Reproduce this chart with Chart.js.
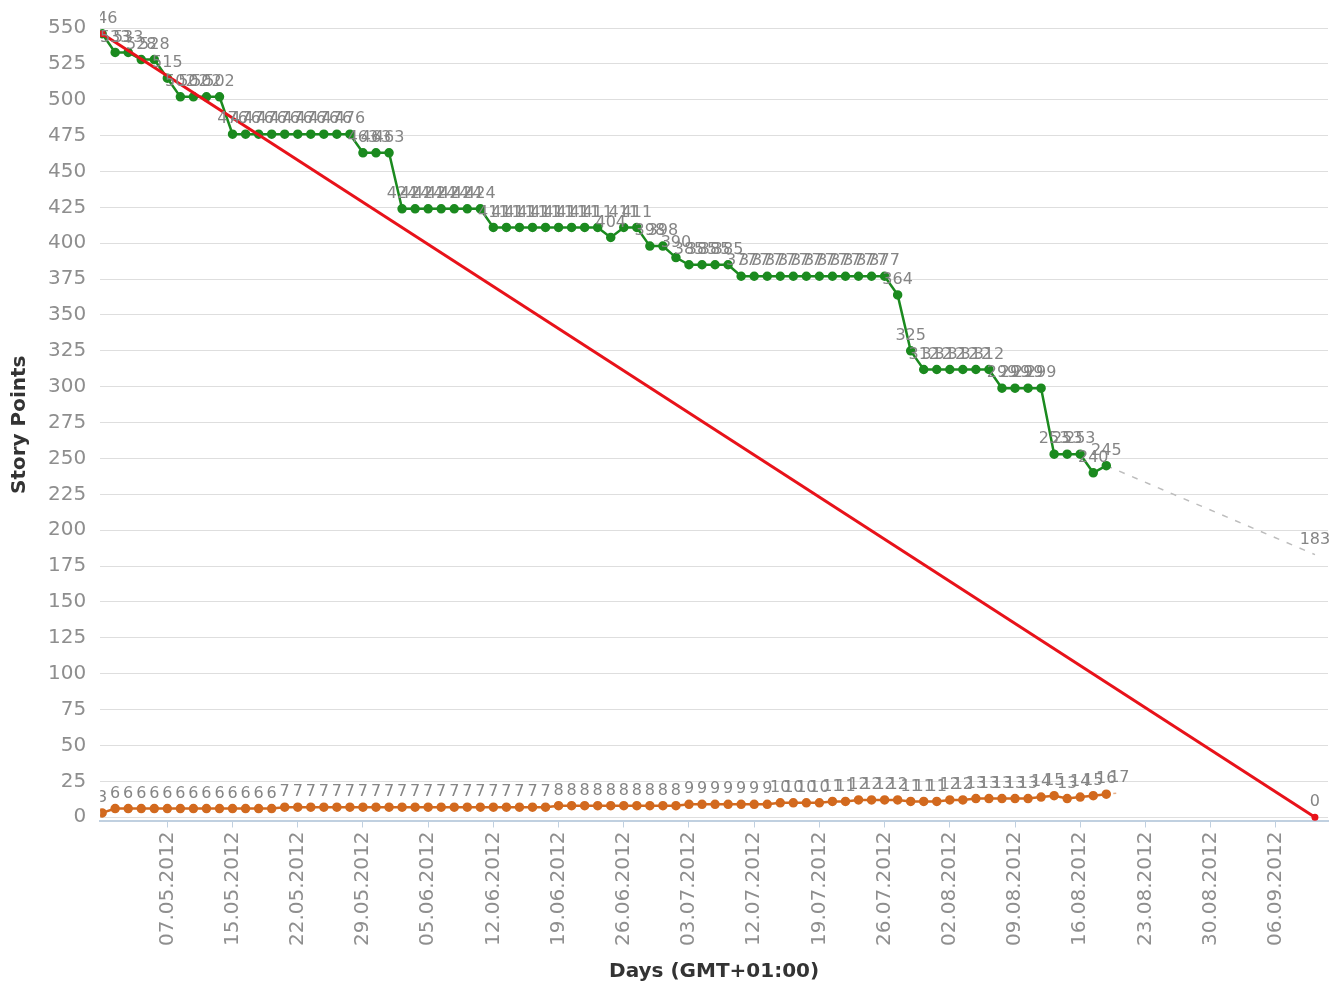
<!DOCTYPE html>
<html>
<head>
<meta charset="utf-8">
<script src="https://cdn.jsdelivr.net/npm/chart.js@4"></script>
<style>
    body { margin: 0; background: #fff; }
    #burndown { display: block; }
</style>
</head>
<body>
<canvas id="burndown" width="1335" height="990"></canvas>
<script>
// working days since 30.04.2012, one point per day
const remaining = [546, 533, 533, 528, 528, 515, 502, 502, 502, 502,
    476, 476, 476, 476, 476, 476, 476, 476, 476, 476,
    463, 463, 463,
    424, 424, 424, 424, 424, 424, 424,
    411, 411, 411, 411, 411, 411, 411, 411, 411,
    404, 411, 411, 398, 398, 390,
    385, 385, 385, 385,
    377, 377, 377, 377, 377, 377, 377, 377, 377, 377, 377, 377,
    364, 325,
    312, 312, 312, 312, 312, 312,
    299, 299, 299, 299,
    253, 253, 253, 240, 245];

const added = [3, 6, 6, 6, 6, 6, 6, 6, 6, 6, 6, 6, 6, 6,
    7, 7, 7, 7, 7, 7, 7, 7, 7, 7, 7, 7, 7, 7, 7, 7, 7, 7, 7, 7, 7,
    8, 8, 8, 8, 8, 8, 8, 8, 8, 8,
    9, 9, 9, 9, 9, 9, 9,
    10, 10, 10, 10, 11, 11, 12, 12, 12, 12,
    11, 11, 11, 12, 12, 13, 13, 13, 13, 13,
    14, 15, 13, 14, 15, 16];

const idealDays = [0, 93];
const idealValues = [546, 0];

const forecastDays = [77, 93];
const forecastValues = [245, 183];

const addedForecastDays = [77, 78];
const addedForecastValues = [16, 17];

const tickDays = [5, 10, 15, 20, 25, 30, 35, 40, 45, 50, 55, 60, 65, 70, 75, 80, 85, 90];
const tickLabels = ['07.05.2012', '15.05.2012', '22.05.2012', '29.05.2012', '05.06.2012',
    '12.06.2012', '19.06.2012', '26.06.2012', '03.07.2012', '12.07.2012', '19.07.2012',
    '26.07.2012', '02.08.2012', '09.08.2012', '16.08.2012', '23.08.2012', '30.08.2012',
    '06.09.2012'];

const yTicks = [0, 25, 50, 75, 100, 125, 150, 175, 200, 225, 250, 275, 300, 325, 350,
    375, 400, 425, 450, 475, 500, 525, 550];

function toPoints(days, values) {
    return values.map((v, i) => ({x: days ? days[i] : i, y: v}));
}

// draws the value above each point (or only the last one)
const valueLabels = {
    id: 'valueLabels',
    afterDatasetsDraw(chart) {
        const ctx = chart.ctx;
        const area = chart.chartArea;
        ctx.save();
        ctx.beginPath();
        ctx.rect(area.left, 0, chart.width - area.left, area.bottom + 4);
        ctx.clip();
        ctx.font = '16px "DejaVu Sans"';
        ctx.fillStyle = '#858585';
        ctx.textAlign = 'center';
        ctx.textBaseline = 'bottom';
        chart.data.datasets.forEach((ds, di) => {
            if (!ds.labelMode) return;
            const meta = chart.getDatasetMeta(di);
            meta.data.forEach((pt, i) => {
                if (ds.labelMode == 'last' && i != meta.data.length - 1) return;
                ctx.fillText(ds.data[i].y, pt.x, pt.y - 7);
            });
        });
        ctx.restore();
    }
};

new Chart(document.getElementById('burndown'), {
    type: 'line',
    data: {
        datasets: [
            {
                label: 'Ideal',
                data: toPoints(idealDays, idealValues),
                borderColor: '#e8121a',
                backgroundColor: '#e8121a',
                borderWidth: 3,
                pointRadius: 2,
                labelMode: 'last'
            },
            {
                label: 'Remaining',
                data: toPoints(null, remaining),
                borderColor: '#1b8a1f',
                backgroundColor: '#1b8a1f',
                borderWidth: 2.5,
                pointRadius: 3.5,
                labelMode: 'all'
            },
            {
                label: 'Forecast',
                data: toPoints(forecastDays, forecastValues),
                borderColor: '#bdbdbd',
                borderWidth: 1.5,
                borderDash: [6, 8],
                pointRadius: 0,
                labelMode: 'last'
            },
            {
                label: 'Added',
                data: toPoints(null, added),
                borderColor: '#d2691e',
                backgroundColor: '#d2691e',
                borderWidth: 2.5,
                pointRadius: 3.5,
                labelMode: 'all'
            },
            {
                label: 'Added forecast',
                data: toPoints(addedForecastDays, addedForecastValues),
                borderColor: '#e8b08a',
                borderWidth: 1.5,
                borderDash: [3, 4],
                pointRadius: 0,
                labelMode: 'last'
            }
        ]
    },
    options: {
        responsive: false,
        animation: false,
        layout: {
            padding: {top: 28, right: 7, bottom: 6, left: 8}
        },
        plugins: {
            legend: {display: false},
            tooltip: {enabled: false}
        },
        scales: {
            x: {
                type: 'linear',
                min: -0.15,
                max: 94,
                afterBuildTicks: (scale) => {
                    scale.ticks = tickDays.map(d => ({value: d}));
                },
                ticks: {
                    autoSkip: false,
                    minRotation: 90,
                    maxRotation: 90,
                    padding: 4,
                    color: '#8e8e8e',
                    font: {family: 'DejaVu Sans', size: 20},
                    callback: (value) => {
                        let i = tickDays.indexOf(value);
                        return i >= 0 ? tickLabels[i] : '';
                    }
                },
                grid: {
                    drawOnChartArea: false,
                    color: '#c0d0e0',
                    tickLength: 6
                },
                border: {color: '#c0d0e0', width: 2},
                title: {
                    display: true,
                    text: 'Days (GMT+01:00)',
                    color: '#333',
                    font: {family: 'DejaVu Sans', size: 20, weight: 'bold'},
                    padding: {top: 10, bottom: 0}
                }
            },
            y: {
                min: -3,
                max: 550,
                afterBuildTicks: (scale) => {
                    scale.ticks = yTicks.map(v => ({value: v}));
                },
                ticks: {
                    padding: 14,
                    color: '#8e8e8e',
                    font: {family: 'DejaVu Sans', size: 20}
                },
                grid: {
                    color: '#dedede',
                    drawTicks: false
                },
                border: {display: false},
                title: {
                    display: true,
                    text: 'Story Points',
                    color: '#333',
                    font: {family: 'DejaVu Sans', size: 20, weight: 'bold'},
                    padding: {top: 0, bottom: 2}
                }
            }
        }
    },
    plugins: [valueLabels]
});
</script>
</body>
</html>
